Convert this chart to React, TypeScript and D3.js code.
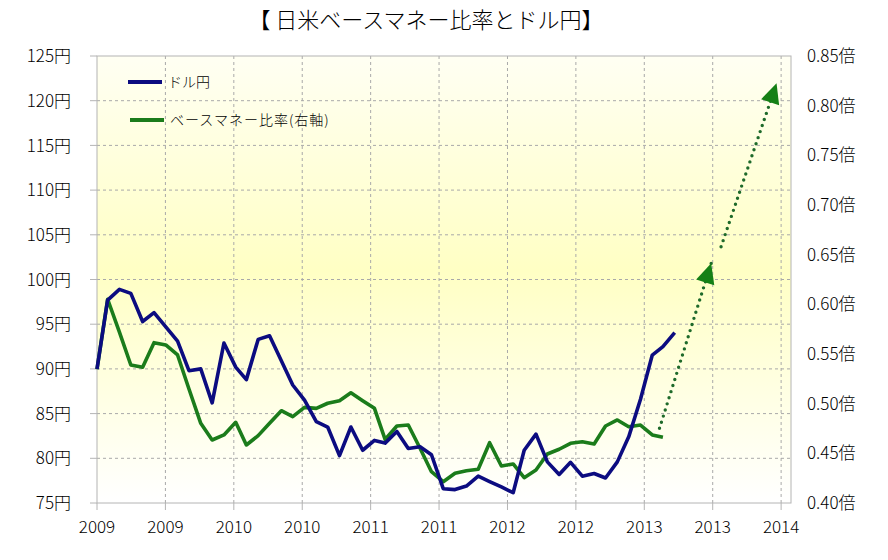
import React from "react";
import * as d3 from "d3";

// ---- data ----
const months: string[] = [
  "2009-01","2009-02","2009-03","2009-04","2009-05","2009-06","2009-07","2009-08","2009-09","2009-10","2009-11","2009-12",
  "2010-01","2010-02","2010-03","2010-04","2010-05","2010-06","2010-07","2010-08","2010-09","2010-10","2010-11","2010-12",
  "2011-01","2011-02","2011-03","2011-04","2011-05","2011-06","2011-07","2011-08","2011-09","2011-10","2011-11","2011-12",
  "2012-01","2012-02","2012-03","2012-04","2012-05","2012-06","2012-07","2012-08","2012-09","2012-10","2012-11","2012-12",
  "2013-01","2013-02","2013-03",
];

// ドル円 (left axis, yen)
const usdJpy: number[] = [
  90.0, 97.7, 98.9, 98.45, 95.3, 96.3, 94.7, 93.1, 89.8, 90.0, 86.2, 92.9,
  90.2, 88.8, 93.3, 93.7, 90.9, 88.2, 86.5, 84.1, 83.5, 80.3, 83.5, 80.9,
  82.0, 81.7, 83.0, 81.1, 81.3, 80.4, 76.6, 76.5, 76.9, 78.0, 77.4, 76.8,
  76.15, 80.9, 82.7, 79.6, 78.2, 79.55, 78.0, 78.3, 77.8, 79.6, 82.4, 86.6,
  91.55, 92.5, 94.05,
];

// ベースマネー比率 (right axis, 倍)
const baseMoneyRatio: number[] = [
  0.5346, 0.6051, 0.572, 0.5389, 0.5366, 0.5614, 0.5591, 0.549, 0.5148, 0.4802, 0.4634, 0.4685,
  0.4812, 0.4584, 0.4678, 0.4802, 0.4929, 0.4869, 0.4963, 0.4953, 0.5004, 0.503, 0.511, 0.503,
  0.4953, 0.4641, 0.4775, 0.4785, 0.4551, 0.4315, 0.4214, 0.4299, 0.4325, 0.4339, 0.4607, 0.4372,
  0.4393, 0.4255, 0.4332, 0.4493, 0.4541, 0.4601, 0.4617, 0.4594, 0.4775, 0.4836, 0.4768, 0.4785,
  0.4685, 0.4661,
];

// projection arrows (dotted, right axis)
const projection1Dates = ["2013-02-19", "2013-07-05"];
const projection1Values = [0.4752, 0.6413];
const projection2Dates = ["2013-07-31", "2013-12-24"];
const projection2Values = [0.658, 0.8225];

const leftTicks = [75, 80, 85, 90, 95, 100, 105, 110, 115, 120, 125];
const rightTicks = [0.4, 0.45, 0.5, 0.55, 0.6, 0.65, 0.7, 0.75, 0.8, 0.85];
const xTickCount = 11; // every 180 days from axis start
const xTickStepDays = 180;
const axisStart = "2009-01-31";
const axisEnd = "2014-01-31";

const title = "【 日米ベースマネー比率とドル円】";
const legendLabels = ["ドル円", "ベースマネー比率(右軸)"];

// ---- layout ----
const W = 888;
const H = 560;
const plot = { left: 97, right: 791, top: 56, bottom: 503 };
const FONT = "'Noto Sans CJK JP', 'Noto Sans', sans-serif";
const BLUE = "#0c0c80";
const GREEN = "#1b7c1b";
const ARROW_GREEN = "#158015";
const DOT_GREEN = "#1e6a2a";

const parseDay = d3.utcParse("%Y-%m-%d");
const parseMonth = d3.utcParse("%Y-%m");
const monthEnd = (m: string) => d3.utcDay.offset(d3.utcMonth.offset(parseMonth(m)!, 1), -1);

export default function App() {
  const start = parseDay(axisStart)!;
  const end = parseDay(axisEnd)!;
  const x = d3.scaleUtc().domain([start, end]).range([plot.left, plot.right]);
  const yL = d3.scaleLinear().domain([75, 125]).range([plot.bottom, plot.top]);
  const yR = d3.scaleLinear().domain([0.4, 0.85]).range([plot.bottom, plot.top]);

  const dates = months.map(monthEnd);
  const xTicks = d3.range(xTickCount).map((k) => d3.utcDay.offset(start, k * xTickStepDays));
  const fmtYear = d3.utcFormat("%Y");

  const blueLine = d3
    .line<number>()
    .x((_, i) => x(dates[i]))
    .y((v) => yL(v))(usdJpy)!;
  const greenLine = d3
    .line<number>()
    .x((_, i) => x(dates[i]))
    .y((v) => yR(v))(baseMoneyRatio)!;

  const projLine = (ds: string[], vs: number[]) =>
    d3
      .line<number>()
      .x((_, i) => x(parseDay(ds[i])!))
      .y((v) => yR(v))(vs)!;

  const arrowHead = (ds: string[], vs: number[]) => {
    const x0 = x(parseDay(ds[0])!);
    const y0 = yR(vs[0]);
    const x1 = x(parseDay(ds[1])!);
    const y1 = yR(vs[1]);
    const a = Math.atan2(y1 - y0, x1 - x0);
    const L = 20;
    const hw = 9.5;
    const bx = x1 - L * Math.cos(a);
    const by = y1 - L * Math.sin(a);
    const px = -Math.sin(a) * hw;
    const py = Math.cos(a) * hw;
    return `M${x1},${y1}L${bx + px},${by + py}L${bx - px},${by - py}Z`;
  };

  const grid = "#a9a9a9";
  const border = "#b4b4b4";

  return (
    <svg
      width={W}
      height={H}
      style={{ position: "absolute", left: 0, top: 0, display: "block", background: "#fff" }}
      fontFamily={FONT}
    >
      <defs>
        <linearGradient id="bg" x1="0" y1="0" x2="0" y2="1">
          <stop offset="0%" stopColor="#fffff3" />
          <stop offset="48%" stopColor="#ffffc4" />
          <stop offset="100%" stopColor="#ffffff" />
        </linearGradient>
      </defs>
      <rect x={0} y={0} width={W} height={H} fill="#ffffff" />
      <text x={426} y={28} textAnchor="middle" fontSize={22} fontWeight={300} fill="#000">
        {title}
      </text>

      <rect
        x={plot.left}
        y={plot.top}
        width={plot.right - plot.left}
        height={plot.bottom - plot.top}
        fill="url(#bg)"
      />

      {/* horizontal grid */}
      {leftTicks
        .filter((t) => t !== 75 && t !== 125)
        .map((t) => (
          <line
            key={"hg" + t}
            x1={plot.left}
            x2={plot.right}
            y1={yL(t)}
            y2={yL(t)}
            stroke={grid}
            strokeWidth={1}
            strokeDasharray="3,3"
          />
        ))}
      {/* vertical grid */}
      {xTicks.slice(1).map((t, i) => (
        <line
          key={"vg" + i}
          x1={x(t)}
          x2={x(t)}
          y1={plot.top}
          y2={plot.bottom}
          stroke={grid}
          strokeWidth={1}
          strokeDasharray="3,3"
        />
      ))}

      {/* border */}
      <rect
        x={plot.left}
        y={plot.top}
        width={plot.right - plot.left}
        height={plot.bottom - plot.top}
        fill="none"
        stroke={border}
        strokeWidth={1}
      />

      {/* left axis ticks and labels */}
      {leftTicks.map((t) => (
        <g key={"lt" + t}>
          <line x1={plot.left - 7} x2={plot.left} y1={yL(t)} y2={yL(t)} stroke={border} />
          <text x={71} y={yL(t)} dy="0.36em" textAnchor="end" fontSize={17} fontWeight={300} fill="#000">
            {t}円
          </text>
        </g>
      ))}
      {/* right axis labels */}
      {rightTicks.map((t) => (
        <text
          key={"rt" + t}
          x={807}
          y={yR(t)}
          dy="0.36em"
          textAnchor="start"
          fontSize={17}
          fontWeight={300}
          fill="#000"
        >
          {t.toFixed(2)}倍
        </text>
      ))}
      {/* bottom ticks and labels */}
      {xTicks.map((t, i) => (
        <g key={"xt" + i}>
          <line x1={x(t)} x2={x(t)} y1={plot.bottom} y2={plot.bottom + 7} stroke={border} />
          <text x={x(t)} y={533} textAnchor="middle" fontSize={17} fontWeight={300} fill="#000">
            {fmtYear(t)}
          </text>
        </g>
      ))}

      {/* series */}
      <path d={greenLine} fill="none" stroke={GREEN} strokeWidth={3.6} strokeLinejoin="round" />
      <path d={blueLine} fill="none" stroke={BLUE} strokeWidth={3.6} strokeLinejoin="round" />

      {/* projection arrows */}
      {[
        [projection1Dates, projection1Values],
        [projection2Dates, projection2Values],
      ].map(([ds, vs], i) => (
        <g key={"pa" + i}>
          <path
            d={projLine(ds as string[], vs as number[])}
            fill="none"
            stroke={DOT_GREEN}
            strokeWidth={3.4}
            strokeLinecap="round"
            strokeDasharray="0,6.4"
          />
          <path d={arrowHead(ds as string[], vs as number[])} fill={ARROW_GREEN} />
        </g>
      ))}

      {/* legend */}
      <line x1={128} x2={162} y1={82} y2={82} stroke={BLUE} strokeWidth={4} />
      <text x={168} y={82} dy="0.36em" fontSize={14} fontWeight={300} fill="#000">
        {legendLabels[0]}
      </text>
      <line x1={130} x2={164} y1={120} y2={120} stroke={GREEN} strokeWidth={4} />
      <text x={170} y={120} dy="0.36em" fontSize={14} fontWeight={300} letterSpacing={1} fill="#000">
        {legendLabels[1]}
      </text>
    </svg>
  );
}
